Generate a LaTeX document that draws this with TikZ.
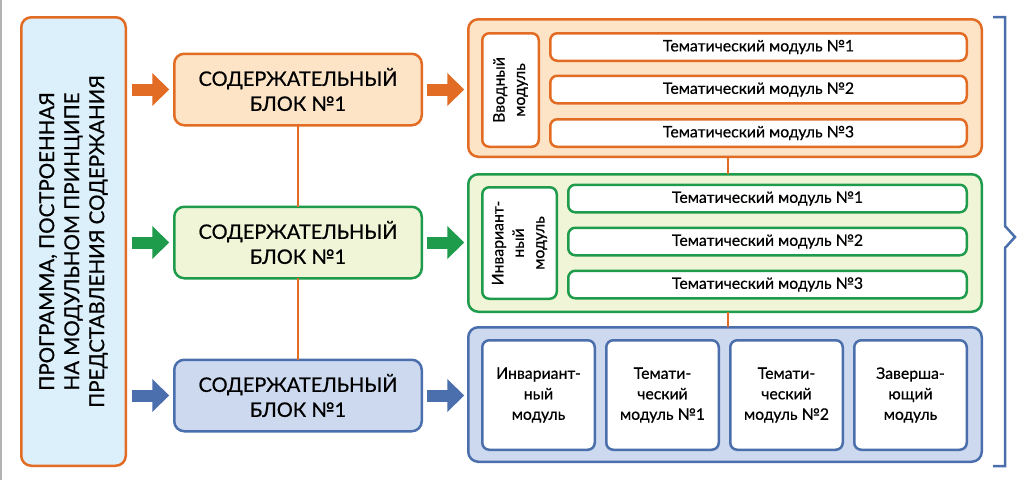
\documentclass[tikz,border=0pt]{standalone}
\usepackage{fontspec}
\setmainfont{Lato}[FakeBold=0.6]
\usetikzlibrary{arrows.meta,calc}
\definecolor{cOr}{HTML}{E36C25}
\definecolor{fOr}{HTML}{FDE4C6}
\definecolor{cGr}{HTML}{1E9B4B}
\definecolor{fGr}{HTML}{F0F5D8}
\definecolor{cBl}{HTML}{4B6FAC}
\definecolor{fBl}{HTML}{CDD9EE}
\definecolor{fLb}{HTML}{DCF0FC}
\begin{document}
\begin{tikzpicture}[x=1pt,y=-1pt,
  box/.style={draw, line width=2.5pt, rounded corners=10pt, inner sep=0pt, outer sep=0pt},
  inner/.style={draw, fill=white, line width=2.5pt, rounded corners=7pt, inner sep=0pt, outer sep=0pt, align=center, font=\fontsize{15.8}{20.5}\selectfont},
  blocktext/.style={font=\fontsize{20}{25}\selectfont, align=center},
  barrow/.style={line width=12pt, -{Triangle[width=32pt,length=17pt]}},
  link/.style={draw=cOr, line width=2.5pt}
]
\useasboundingbox (0,0) rectangle (1024,480);
\fill[white] (0,0) rectangle (1024,480);
\draw[gray!60, line width=1.5pt] (0.75,0) -- (0.75,480);

% left box
\node[box, draw=cOr, fill=fLb, minimum width=104.5pt, minimum height=448.5pt] (left) at (73.5,241.5) {};
\node[rotate=90, align=center, font=\fontsize{20.5}{25}\selectfont] (lefttext) at (left.center) {ПРОГРАММА, ПОСТРОЕННАЯ\\НА МОДУЛЬНОМ ПРИНЦИПЕ\\ПРЕДСТАВЛЕНИЯ СОДЕРЖАНИЯ};

% blocks
\node[box, draw=cOr, fill=fOr, minimum width=247.5pt, minimum height=71.5pt, blocktext] (b1) at (298,89.5) {СОДЕРЖАТЕЛЬНЫЙ\\БЛОК №1};
\node[box, draw=cGr, fill=fGr, minimum width=247.5pt, minimum height=71.5pt, blocktext] (b2) at (298,242.5) {СОДЕРЖАТЕЛЬНЫЙ\\БЛОК №1};
\node[box, draw=cBl, fill=fBl, minimum width=247.5pt, minimum height=71.5pt, blocktext] (b3) at (298,395.5) {СОДЕРЖАТЕЛЬНЫЙ\\БЛОК №1};

% containers
\node[box, draw=cOr, fill=fOr, minimum width=513.5pt, minimum height=137.5pt] (c1) at (725,88) {};
\node[box, draw=cGr, fill=fGr, minimum width=513.5pt, minimum height=137.5pt] (c2) at (725,243) {};
\node[box, draw=cBl, fill=fBl, minimum width=513.5pt, minimum height=134.5pt] (c3) at (725,394.5) {};

% connectors
\draw[link] (b1.south) -- (b2.north);
\draw[link] (b2.south) -- (b3.north);
\draw[link] ([xshift=3pt]c1.south) -- ([xshift=3pt]c2.north);
\draw[link] ([xshift=3pt]c2.south) -- ([xshift=3pt]c3.north);

% orange container content
\node[inner, draw=cOr, minimum width=56.5pt, minimum height=113.5pt] (vv) at (510.5,90) {};
\node[rotate=90, align=center, font=\fontsize{15.8}{20.5}\selectfont] (vvt) at (vv.center) {Вводный\\модуль};
\node[inner, draw=cOr, minimum width=416.5pt, minimum height=27.5pt] (o1) at (758.5,47) {Тематический модуль №1};
\node[inner, draw=cOr, minimum width=416.5pt, minimum height=27.5pt] (o2) at (758.5,89.5) {Тематический модуль №2};
\node[inner, draw=cOr, minimum width=416.5pt, minimum height=27.5pt] (o3) at (758.5,133) {Тематический модуль №3};

% green container content
\node[inner, draw=cGr, minimum width=74.5pt, minimum height=111.5pt] (iv) at (519.5,243) {};
\node[rotate=90, align=center, font=\fontsize{15.8}{20.5}\selectfont] (ivt) at (iv.center) {Инвариант-\\ный\\модуль};
\node[inner, draw=cGr, minimum width=398.5pt, minimum height=27.5pt] (g1) at (767.5,198.5) {Тематический модуль №1};
\node[inner, draw=cGr, minimum width=398.5pt, minimum height=27.5pt] (g2) at (767.5,241.5) {Тематический модуль №2};
\node[inner, draw=cGr, minimum width=398.5pt, minimum height=27.5pt] (g3) at (767.5,284.5) {Тематический модуль №3};

% blue container content
\node[inner, draw=cBl, minimum width=112.5pt, minimum height=109.5pt] (m1) at (538.5,395) {Инвариант-\\ный\\модуль};
\node[inner, draw=cBl, minimum width=112.5pt, minimum height=109.5pt] (m2) at (662.5,395) {Темати-\\ческий\\модуль №1};
\node[inner, draw=cBl, minimum width=112.5pt, minimum height=109.5pt] (m3) at (786.5,395) {Темати-\\ческий\\модуль №2};
\node[inner, draw=cBl, minimum width=112.5pt, minimum height=109.5pt] (m4) at (910.5,395) {Заверша-\\ющий\\модуль};

% block arrows
\draw[barrow, cOr] ($(left.east |- b1.west)+(6,0)$) -- ($(b1.west)+(-5,0)$);
\draw[barrow, cGr] ($(left.east |- b2.west)+(6,0)$) -- ($(b2.west)+(-5,0)$);
\draw[barrow, cBl] ($(left.east |- b3.west)+(6,0)$) -- ($(b3.west)+(-5,0)$);
\draw[barrow, cOr] ($(b1.east)+(5,0)$) -- ($(c1.west |- b1.east)+(-4,0)$);
\draw[barrow, cGr] ($(b2.east)+(5,0)$) -- ($(c2.west |- b2.east)+(-4,0)$);
\draw[barrow, cBl] ($(b3.east)+(5,0)$) -- ($(c3.west |- b3.east)+(-4,0)$);

% bracket
\coordinate (brT) at (993,17);
\coordinate (brB) at (993,466);
\draw[cBl, line width=2.5pt, line join=miter] (brT) -- (1005,17) -- (1005,226) -- (1015,237) -- (1005,248) -- (1005,466) -- (brB);
\end{tikzpicture}
\end{document}
